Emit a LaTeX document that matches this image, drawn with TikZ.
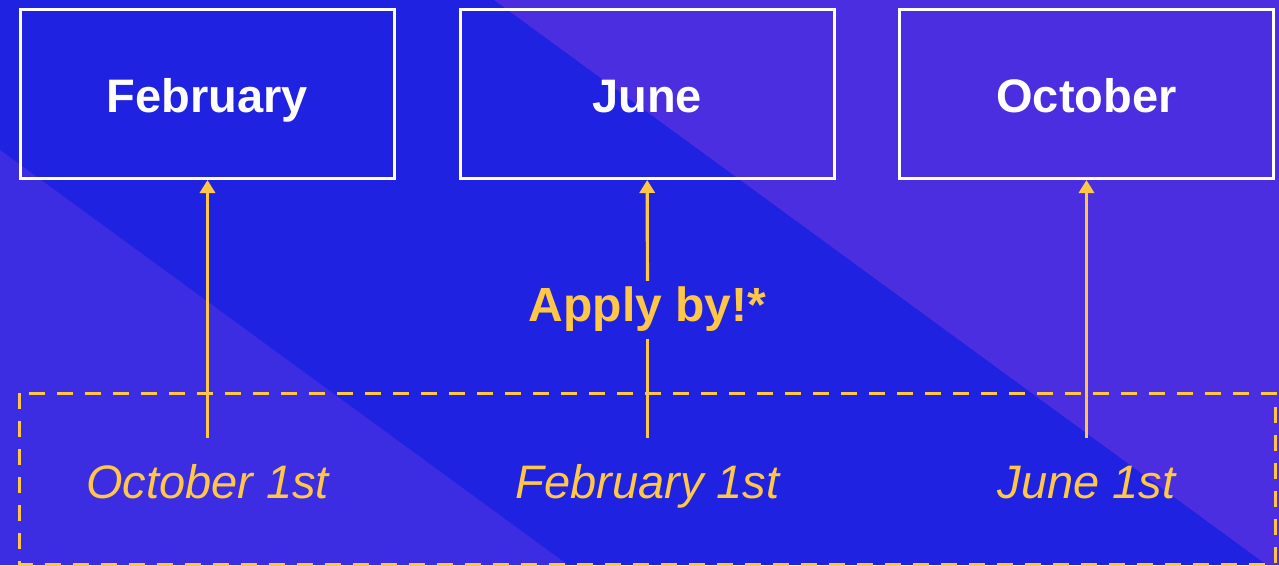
\documentclass[tikz,border=0pt]{standalone}
\usepackage{fontspec}
\setmainfont{Liberation Sans}
\usepackage{tikz,xcolor}
\usetikzlibrary{positioning,arrows.meta}
\definecolor{bgblue}{HTML}{2022E2}
\definecolor{bgviolet}{HTML}{4A2EDF}
\definecolor{bglilac}{HTML}{3D2DE2}
\definecolor{gold}{HTML}{FFC745}

\begin{document}
\begin{tikzpicture}[x=1pt,y=-1pt,
    month/.style={draw=white,line width=3pt,minimum width=374pt,minimum height=169pt,
        inner sep=0pt,text height=36pt,text depth=0pt,text=white,
        font=\fontsize{47}{50}\selectfont\bfseries},
    deadline/.style={text=gold,font=\fontsize{47}{50}\selectfont\itshape,
        anchor=base,inner sep=0pt,text height=60pt},
    applyby/.style={text=gold,font=\fontsize{48}{50}\selectfont\bfseries,
        anchor=base,inner sep=0pt,text height=40pt,text depth=18pt},
    link/.style={draw=gold,line width=3.2pt},
    window/.style={draw=gold,line width=3pt,dash pattern=on 16pt off 12pt}
]
    % background
    \fill[bgblue] (0,0) rectangle (1279,565);
    \fill[bgviolet] (494,0) -- (1279,0) -- (1279,565) -- (1267,565) -- cycle;
    \fill[bglilac] (0,150) -- (568,565) -- (0,565) -- cycle;
    \useasboundingbox (0,0) rectangle (1279,565);

    % intakes
    \node[month] (feb) at (207.5,94) {February};
    \node[month,right=62.5pt of feb] (jun) {June};
    \node[month,right=62.5pt of jun] (oct) {October};

    % deadlines
    \draw[window] (19.5,393) rectangle (1275,564);
    \node[deadline] (oct1) at (207.5,498) {October 1st};
    \node[deadline] (feb1) at (647.5,498) {February 1st};
    \node[deadline] (jun1) at (1086.5,498) {June 1st};
    \node[applyby] (apply) at (647.5,321) {Apply by!*};

    \draw[link,-{Triangle[length=13pt,width=15pt]}] (oct1) -- (feb);
    \draw[link] (feb1) -- (apply);
    \draw[link,-{Triangle[length=13pt,width=15pt]}] (apply) -- (jun);
    \draw[link,-{Triangle[length=13pt,width=15pt]}] (jun1) -- (oct);

\end{tikzpicture}
\end{document}
